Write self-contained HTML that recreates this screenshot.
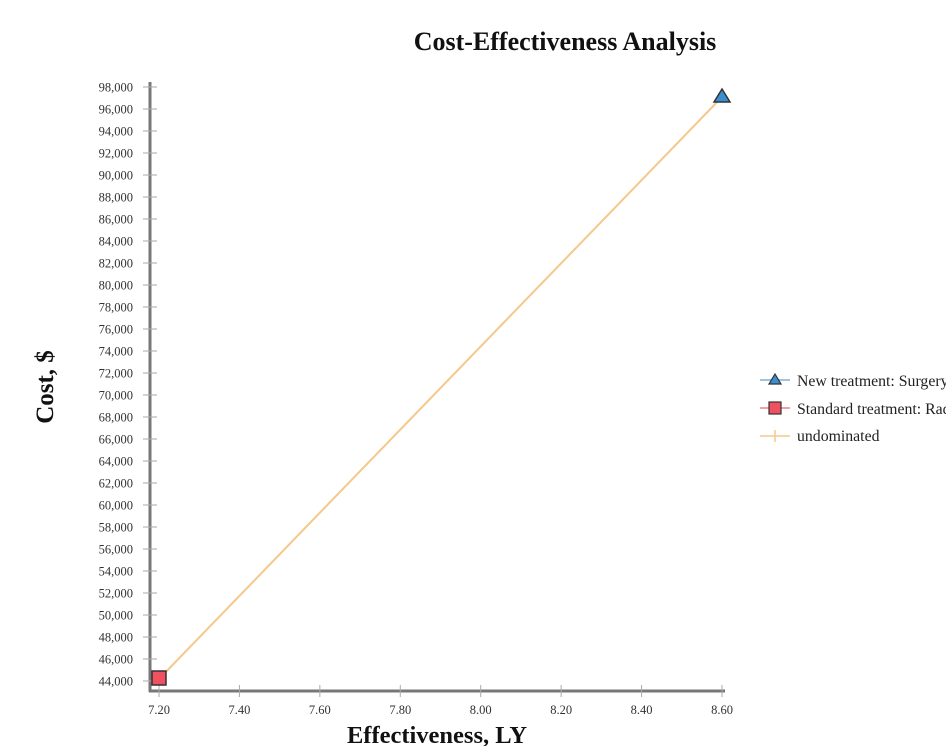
<!DOCTYPE html>
<html><head><meta charset="utf-8"><style>
html,body{margin:0;padding:0;background:#fff;overflow:hidden}
svg{display:block}
text{font-family:"Liberation Serif",serif}
</style></head><body>
<svg width="946" height="746" xmlns="http://www.w3.org/2000/svg">
<text x="565" y="50" font-size="26" font-weight="bold" text-anchor="middle" fill="#111">Cost-Effectiveness Analysis</text>
<text x="437" y="743" font-size="24.5" font-weight="bold" text-anchor="middle" fill="#111">Effectiveness, LY</text>
<text transform="translate(53,387) rotate(-90)" font-size="25" font-weight="bold" text-anchor="middle" fill="#111">Cost, $</text>
<g stroke="#777" stroke-width="3" fill="none">
<line x1="150" y1="82" x2="150" y2="692"/>
<line x1="149" y1="691" x2="725" y2="691"/>
</g>
<g id="yt" stroke="#aaa" stroke-width="1"></g>
<g id="yl" font-size="12.5" fill="#333" text-anchor="end"></g>
<g id="xl" font-size="12.5" fill="#333" text-anchor="middle"></g>
<line x1="159" y1="679" x2="722" y2="97" stroke="#f5c88a" stroke-width="2"/>
<rect x="152" y="671" width="14" height="14" fill="#f05060" stroke="#333" stroke-width="1.5"/>
<polygon points="722,89 730,102 714,102" fill="#3a8fd0" stroke="#333" stroke-width="1.5"/>
<g font-size="15.8" fill="#222">
<line x1="760" y1="380" x2="790" y2="380" stroke="#7ab0e0" stroke-width="1.5"/>
<polygon points="775,374 781,384 769,384" fill="#3a8fd0" stroke="#333" stroke-width="1.2"/>
<text x="797" y="386">New treatment: Surgery</text>
<line x1="760" y1="408" x2="790" y2="408" stroke="#f08090" stroke-width="1.5"/>
<rect x="769" y="402" width="12" height="12" fill="#f05060" stroke="#333" stroke-width="1.2"/>
<text x="797" y="414">Standard treatment: Radiation</text>
<line x1="760" y1="436" x2="790" y2="436" stroke="#f5c88a" stroke-width="1.5"/>
<line x1="775" y1="430" x2="775" y2="442" stroke="#f5c88a" stroke-width="1.5"/>
<text x="797" y="441">undominated</text>
</g>
<script>
var ns="http://www.w3.org/2000/svg";
var yt=document.getElementById('yt'),yl=document.getElementById('yl'),xl=document.getElementById('xl');
for(var i=0;i<=27;i++){var v=44000+i*2000;var y=681-i*(594/27);
var l=document.createElementNS(ns,'line');l.setAttribute('x1',143);l.setAttribute('x2',157);l.setAttribute('y1',y);l.setAttribute('y2',y);yt.appendChild(l);
var t=document.createElementNS(ns,'text');t.setAttribute('x',133);t.setAttribute('y',y+4.5);t.textContent=v.toLocaleString('en-US');yl.appendChild(t);}
for(var j=0;j<=7;j++){var x=159+j*(563/7);
var l=document.createElementNS(ns,'line');l.setAttribute('x1',x);l.setAttribute('x2',x);l.setAttribute('y1',685);l.setAttribute('y2',697);l.setAttribute('stroke','#aaa');yt.appendChild(l);
var t=document.createElementNS(ns,'text');t.setAttribute('x',x);t.setAttribute('y',714);t.textContent=(7.2+j*0.2).toFixed(2);xl.appendChild(t);}
</script>
</svg>
</body></html>
